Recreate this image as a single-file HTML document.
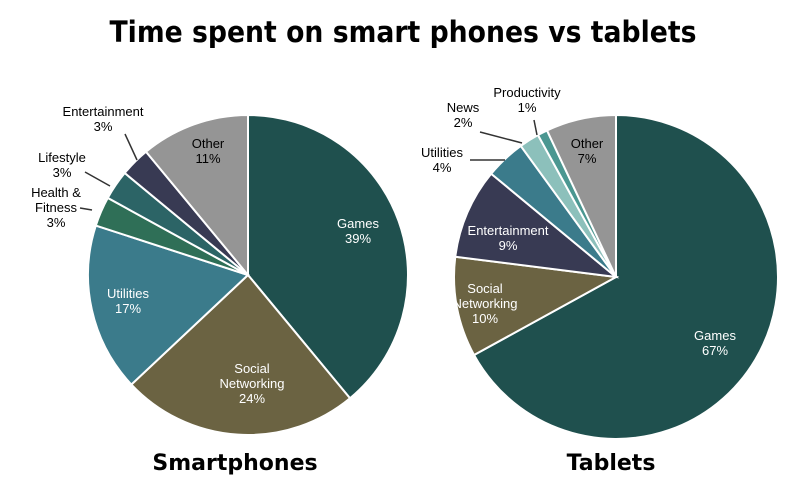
<!DOCTYPE html>
<html><head><meta charset="utf-8"><style>
body{margin:0;background:#fff;width:807px;height:484px;overflow:hidden}
svg text{font-family:"Liberation Sans",Arial,sans-serif}
</style></head><body>
<svg id="c" width="807" height="484">
<text x="403" y="42" text-anchor="middle" font-size="29" font-weight="bold" style="font-family:'DejaVu Sans',sans-serif" transform="translate(403,0) scale(0.92,1) translate(-403,0)">Time spent on smart phones vs tablets</text>
<text x="235" y="470" text-anchor="middle" font-size="22" font-weight="bold" style="font-family:'DejaVu Sans',sans-serif">Smartphones</text>
<text x="611" y="470" text-anchor="middle" font-size="22" font-weight="bold" style="font-family:'DejaVu Sans',sans-serif">Tablets</text>
</svg>
<script>
const phoneCats=["Games","Social Networking","Utilities","Health & Fitness","Lifestyle","Entertainment","Other"];
const phoneVals=[39,24,17,3,3,3,11];
const tabCats=["Games","Social Networking","Entertainment","Utilities","News","Productivity","Other"];
const tabVals=[67,10,9,4,2,1,7];
const phoneColors=["#1f504e","#6b6342","#3b7b8b","#2f6f57","#2c6466","#383a53","#959595"];
const tabColors=["#1f504e","#6b6342","#383a53","#3b7b8b","#8cc0bb","#4b9791","#959595"];
// label layout: [x,y,color,lineTo(optional)]
const phoneLabelPos=[[358,228,"#fff"],[252,373,"#fff"],[128,298,"#fff"],[56,197,"#000",[[80,208],[92,210]]],[62,162,"#000",[[85,172],[110,186]]],[103,116,"#000",[[125,134],[137,160]]],[208,148,"#000"]];
const tabLabelPos=[[715,340,"#fff"],[485,293,"#fff"],[508,235,"#fff"],[442,157,"#000",[[470,160],[505,160]]],[463,112,"#000",[[480,132],[522,143]]],[527,97,"#000",[[534,120],[537,135]]],[587,148,"#000"]];
const svg=document.getElementById('c');
const NS="http://www.w3.org/2000/svg";
function pt(cx,cy,r,f){const a=f*2*Math.PI;return [cx+r*Math.sin(a),cy-r*Math.cos(a)];}
function pie(cx,cy,r,cats,vals,cols,labs,prefix){
  const tot=vals.reduce((a,b)=>a+b,0);let acc=0;
  vals.forEach((v,i)=>{
    const s=acc/tot,e=(acc+v)/tot;acc+=v;
    const p0=pt(cx,cy,r,s),p1=pt(cx,cy,r,e);
    const path=document.createElementNS(NS,'path');
    path.setAttribute('d',`M${cx},${cy}L${p0[0]},${p0[1]}A${r},${r} 0 ${e-s>0.5?1:0} 1 ${p1[0]},${p1[1]}Z`);
    path.setAttribute('fill',cols[i]);path.setAttribute('stroke','#fff');path.setAttribute('stroke-width','2');
    
    
    svg.appendChild(path);
  });
  cats.forEach((c,i)=>{
    const L=labs[i];
    const g=document.createElementNS(NS,'text');
    
    
    g.setAttribute('text-anchor','middle');g.setAttribute('font-size','13');g.setAttribute('fill',L[2]);
    let lines=c.split(' ');if(c==="Health & Fitness")lines=["Health &","Fitness"];
    if(lines.length>1&&c!=="Social Networking"&&c!=="Health & Fitness")lines=[c];
    lines.push(vals[i]+'%');
    lines.forEach((t,k)=>{const ts=document.createElementNS(NS,'tspan');ts.setAttribute('x',L[0]);ts.setAttribute('y',L[1]+k*15);ts.textContent=t;g.appendChild(ts);});
    svg.appendChild(g);
    if(L[3]){const pl=document.createElementNS(NS,'polyline');
      pl.setAttribute('points',L[3].map(p=>p.join(',')).join(' '));
      pl.setAttribute('fill','none');pl.setAttribute('stroke','#333');pl.setAttribute('stroke-width','1.5');
      
      
      svg.appendChild(pl);}
  });
}
pie(248,275,160,phoneCats,phoneVals,phoneColors,phoneLabelPos,'smartphone');
pie(616,277,162,tabCats,tabVals,tabColors,tabLabelPos,'tablet');
</script>
</body></html>
